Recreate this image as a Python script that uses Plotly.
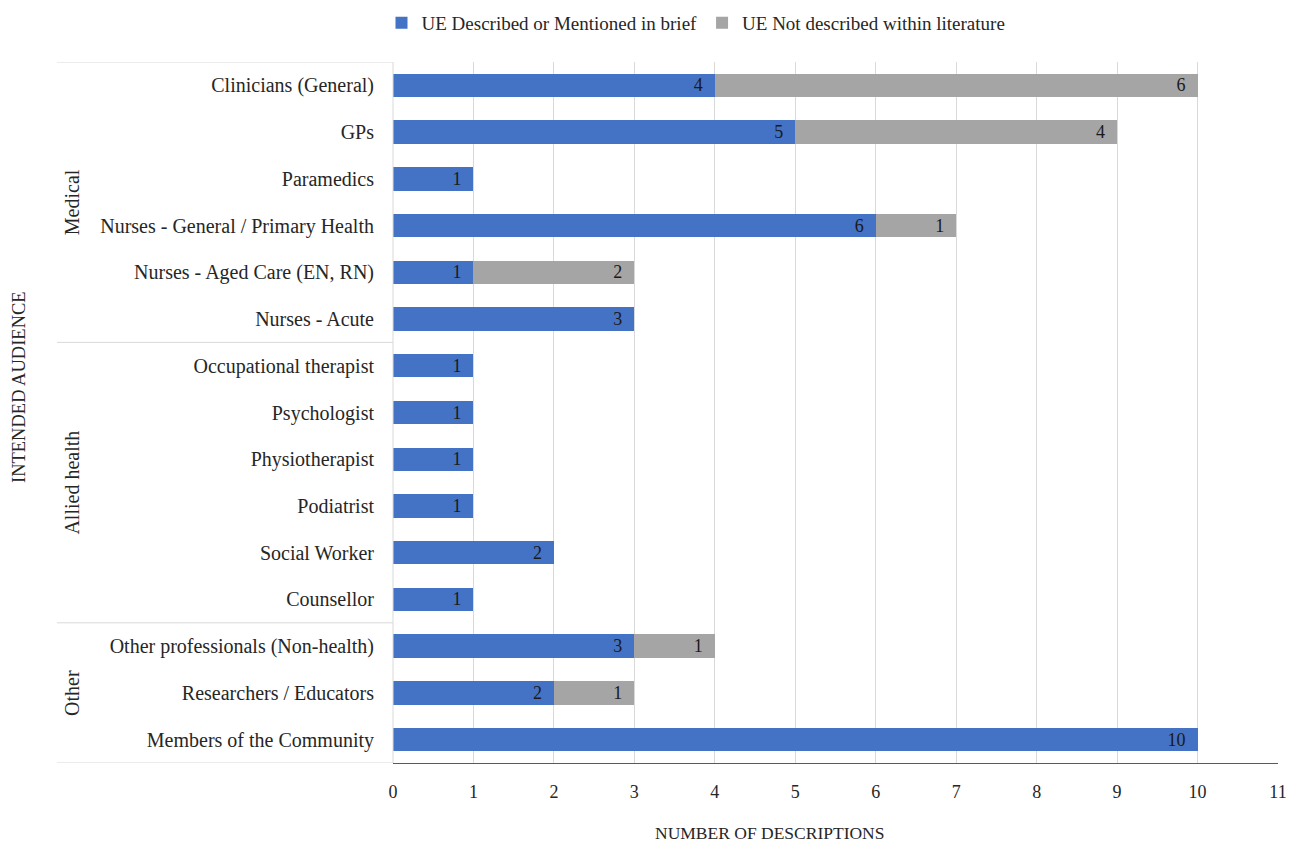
import plotly.graph_objects as go

# Intended audience categories, top to bottom
categories = [
    "Clinicians (General)",
    "GPs",
    "Paramedics",
    "Nurses - General / Primary Health",
    "Nurses - Aged Care (EN, RN)",
    "Nurses - Acute",
    "Occupational therapist",
    "Psychologist",
    "Physiotherapist",
    "Podiatrist",
    "Social Worker",
    "Counsellor",
    "Other professionals (Non-health)",
    "Researchers / Educators",
    "Members of the Community",
]
described = [4, 5, 1, 6, 1, 3, 1, 1, 1, 1, 2, 1, 3, 2, 10]
not_described = [6, 4, 0, 1, 2, 0, 0, 0, 0, 0, 0, 0, 1, 1, 0]

groups = ["Medical", "Allied health", "Other"]
group_sizes = [6, 6, 3]

x_ticks = list(range(0, 12))

FONT = "Liberation Serif"
BLUE = "#4472C4"
GREY = "#A5A5A5"
TEXT = "#262626"

W, H = 1301, 846
ML, MR, MT, MB = 393, 23, 62, 83
plot_w = W - ML - MR
plot_h = H - MT - MB


def labels(vals):
    # value labels, padded away from the bar end
    return [f"{v}\u00a0\u00a0" if v else "" for v in vals]


fig = go.Figure()
fig.add_trace(go.Bar(
    y=categories, x=described, orientation="h",
    name="UE Described or Mentioned in brief",
    marker=dict(color=BLUE, line=dict(width=0)),
    text=labels(described), textposition="inside", insidetextanchor="end",
    constraintext="none",
    textfont=dict(family=FONT, size=18, color="#1a1a1a"),
    textangle=0,
))
fig.add_trace(go.Bar(
    y=categories, x=not_described, orientation="h",
    name="UE Not described within literature",
    marker=dict(color=GREY, line=dict(width=0)),
    text=labels(not_described), textposition="inside", insidetextanchor="end",
    constraintext="none",
    textfont=dict(family=FONT, size=18, color="#1a1a1a"),
    textangle=0,
))

# Group separator lines and group labels to the left of the category labels
left_px = 57
left_paper = (left_px - ML) / plot_w
shapes = []
boundaries = [-0.5]
acc = -0.5
for s in group_sizes:
    acc += s
    boundaries.append(acc)
for b in boundaries:
    shapes.append(dict(type="line", xref="paper", yref="y",
                       x0=left_paper, x1=0, y0=b, y1=b,
                       line=dict(color="#d9d9d9", width=1)))
# category axis line
shapes.append(dict(type="line", xref="paper", yref="y", x0=0, x1=0,
                   y0=-0.5, y1=len(categories) - 0.5,
                   line=dict(color="#d9d9d9", width=1)))

annotations = []
start = -0.5
for g, s in zip(groups, group_sizes):
    mid = start + s / 2
    annotations.append(dict(
        text=g, xref="paper", yref="y",
        x=(72 - ML) / plot_w, y=mid, textangle=-90,
        showarrow=False, xanchor="center", yanchor="middle",
        font=dict(family=FONT, size=20, color=TEXT),
    ))
    start += s

annotations.append(dict(
    text="INTENDED AUDIENCE", xref="paper", yref="paper",
    x=(19 - ML) / plot_w, y=(H - MB - 387) / plot_h, textangle=-90,
    showarrow=False, xanchor="center", yanchor="middle",
    font=dict(family=FONT, size=18.5, color=TEXT),
))
annotations.append(dict(
    text="NUMBER OF DESCRIPTIONS", xref="paper", yref="paper",
    x=(769 - ML) / plot_w, y=-(833 - (H - MB)) / plot_h,
    showarrow=False, xanchor="center", yanchor="middle",
    font=dict(family=FONT, size=17.5, color=TEXT),
))

fig.update_layout(
    width=W, height=H,
    margin=dict(l=ML, r=MR, t=MT, b=MB, autoexpand=False),
    barmode="stack", bargap=0.5,
    plot_bgcolor="white", paper_bgcolor="white",
    font=dict(family=FONT, size=20, color=TEXT),
    showlegend=True,
    legend=dict(orientation="h", x=(696 - ML) / plot_w, xanchor="center",
                y=1 + (MT - 23) / plot_h, yanchor="middle",
                font=dict(family=FONT, size=19, color=TEXT),
                itemwidth=30, traceorder="normal"),
    xaxis=dict(range=[0, 11], tickvals=x_ticks, ticktext=[str(t) for t in x_ticks],
               showgrid=True, gridcolor="#d9d9d9", gridwidth=1,
               zeroline=False, showline=True, linecolor="#595959", linewidth=1,
               ticks="", tickfont=dict(family=FONT, size=18, color=TEXT),
               ticklabelstandoff=12),
    yaxis=dict(autorange=False, range=[len(categories) - 0.5, -0.5],
               categoryorder="array", categoryarray=categories,
               showgrid=False, zeroline=False, showline=False, ticks="",
               ticklabelstandoff=18,
               tickfont=dict(family=FONT, size=20, color=TEXT)),
    shapes=shapes, annotations=annotations,
)

fig.write_html("out.html")
